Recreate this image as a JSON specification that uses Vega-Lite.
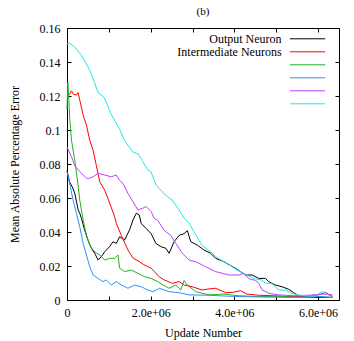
{
"$schema": "https://vega.github.io/schema/vega-lite/v6.json",
"width": 272, "height": 272,
"autosize": "none",
"padding": {"left": 67, "top": 28, "right": 15, "bottom": 41},
"background": "white",
"title": {"text": "(b)", "font": "Liberation Serif", "fontSize": 11, "fontWeight": "normal", "color": "black", "anchor": "middle", "offset": 5},
"config": {
  "view": {"stroke": "black", "strokeWidth": 1},
  "axis": {"domain": false, "grid": false, "tickSize": -4, "tickColor": "black", "tickWidth": 1,
           "labelFont": "Liberation Serif", "labelFontSize": 12, "labelColor": "black",
           "titleFont": "Liberation Serif", "titleFontSize": 12, "titleFontWeight": "normal", "titleColor": "black"},
  "legend": {"orient": "none", "legendX": 234.6, "legendY": 4.8, "title": null, "symbolType": "M-3.2,0H3.2", "symbolSize": 121,
             "symbolStrokeWidth": 1, "rowPadding": 1, "padding": 0,
             "labelAlign": "right", "labelOffset": -32, "labelFont": "Liberation Serif", "labelFontSize": 12, "labelColor": "black"}
},
"data": {"values": [
{"s":"Output Neuron","x":0,"y":0.076},{"s":"Output Neuron","x":60000,"y":0.0696},{"s":"Output Neuron","x":138000,"y":0.0659},{"s":"Output Neuron","x":186000,"y":0.0627},{"s":"Output Neuron","x":267000,"y":0.053},{"s":"Output Neuron","x":305000,"y":0.051},{"s":"Output Neuron","x":345000,"y":0.048},{"s":"Output Neuron","x":424000,"y":0.041},{"s":"Output Neuron","x":505000,"y":0.035},{"s":"Output Neuron","x":583000,"y":0.0304},{"s":"Output Neuron","x":662000,"y":0.0275},{"s":"Output Neuron","x":743000,"y":0.0235},{"s":"Output Neuron","x":821000,"y":0.0255},{"s":"Output Neuron","x":900000,"y":0.0284},{"s":"Output Neuron","x":1019000,"y":0.0314},{"s":"Output Neuron","x":1100000,"y":0.0343},{"s":"Output Neuron","x":1179000,"y":0.0333},{"s":"Output Neuron","x":1257000,"y":0.0372},{"s":"Output Neuron","x":1376000,"y":0.0353},{"s":"Output Neuron","x":1495000,"y":0.0412},{"s":"Output Neuron","x":1576000,"y":0.047},{"s":"Output Neuron","x":1655000,"y":0.051},{"s":"Output Neuron","x":1726000,"y":0.05},{"s":"Output Neuron","x":1774000,"y":0.045},{"s":"Output Neuron","x":1893000,"y":0.042},{"s":"Output Neuron","x":2012000,"y":0.039},{"s":"Output Neuron","x":2124000,"y":0.0333},{"s":"Output Neuron","x":2243000,"y":0.0314},{"s":"Output Neuron","x":2362000,"y":0.0304},{"s":"Output Neuron","x":2440000,"y":0.0275},{"s":"Output Neuron","x":2560000,"y":0.0343},{"s":"Output Neuron","x":2679000,"y":0.038},{"s":"Output Neuron","x":2798000,"y":0.039},{"s":"Output Neuron","x":2876000,"y":0.0408},{"s":"Output Neuron","x":2957000,"y":0.0343},{"s":"Output Neuron","x":3114000,"y":0.0323},{"s":"Output Neuron","x":3274000,"y":0.0294},{"s":"Output Neuron","x":3433000,"y":0.0275},{"s":"Output Neuron","x":3552000,"y":0.0245},{"s":"Output Neuron","x":3750000,"y":0.0225},{"s":"Output Neuron","x":4029000,"y":0.0186},{"s":"Output Neuron","x":4267000,"y":0.0147},{"s":"Output Neuron","x":4424000,"y":0.0147},{"s":"Output Neuron","x":4583000,"y":0.0127},{"s":"Output Neuron","x":4743000,"y":0.0127},{"s":"Output Neuron","x":4821000,"y":0.0108},{"s":"Output Neuron","x":4981000,"y":0.0088},{"s":"Output Neuron","x":5138000,"y":0.0078},{"s":"Output Neuron","x":5298000,"y":0.0063},{"s":"Output Neuron","x":5417000,"y":0.0043},{"s":"Output Neuron","x":5576000,"y":0.002},{"s":"Output Neuron","x":5893000,"y":0.0015},{"s":"Output Neuron","x":6345000,"y":0.0015},
{"s":"Intermediate Neurons","x":0,"y":0.1196},{"s":"Intermediate Neurons","x":60000,"y":0.121},{"s":"Intermediate Neurons","x":107000,"y":0.123},{"s":"Intermediate Neurons","x":155000,"y":0.121},{"s":"Intermediate Neurons","x":226000,"y":0.1206},{"s":"Intermediate Neurons","x":262000,"y":0.122},{"s":"Intermediate Neurons","x":305000,"y":0.1176},{"s":"Intermediate Neurons","x":393000,"y":0.108},{"s":"Intermediate Neurons","x":464000,"y":0.103},{"s":"Intermediate Neurons","x":543000,"y":0.094},{"s":"Intermediate Neurons","x":624000,"y":0.088},{"s":"Intermediate Neurons","x":702000,"y":0.079},{"s":"Intermediate Neurons","x":781000,"y":0.0696},{"s":"Intermediate Neurons","x":900000,"y":0.0647},{"s":"Intermediate Neurons","x":1019000,"y":0.057},{"s":"Intermediate Neurons","x":1138000,"y":0.049},{"s":"Intermediate Neurons","x":1179000,"y":0.045},{"s":"Intermediate Neurons","x":1298000,"y":0.038},{"s":"Intermediate Neurons","x":1457000,"y":0.0294},{"s":"Intermediate Neurons","x":1576000,"y":0.0247},{"s":"Intermediate Neurons","x":1733000,"y":0.0225},{"s":"Intermediate Neurons","x":1821000,"y":0.021},{"s":"Intermediate Neurons","x":1933000,"y":0.0196},{"s":"Intermediate Neurons","x":2005000,"y":0.0188},{"s":"Intermediate Neurons","x":2090000,"y":0.0167},{"s":"Intermediate Neurons","x":2202000,"y":0.0137},{"s":"Intermediate Neurons","x":2321000,"y":0.0118},{"s":"Intermediate Neurons","x":2519000,"y":0.0098},{"s":"Intermediate Neurons","x":2679000,"y":0.0108},{"s":"Intermediate Neurons","x":2798000,"y":0.0088},{"s":"Intermediate Neurons","x":2995000,"y":0.0078},{"s":"Intermediate Neurons","x":3226000,"y":0.0059},{"s":"Intermediate Neurons","x":3393000,"y":0.0065},{"s":"Intermediate Neurons","x":3552000,"y":0.0069},{"s":"Intermediate Neurons","x":3790000,"y":0.0043},{"s":"Intermediate Neurons","x":3964000,"y":0.0045},{"s":"Intermediate Neurons","x":4148000,"y":0.0055},{"s":"Intermediate Neurons","x":4298000,"y":0.0035},{"s":"Intermediate Neurons","x":4583000,"y":0.0028},{"s":"Intermediate Neurons","x":4940000,"y":0.0025},{"s":"Intermediate Neurons","x":5298000,"y":0.002},{"s":"Intermediate Neurons","x":5655000,"y":0.0022},{"s":"Intermediate Neurons","x":6012000,"y":0.003},{"s":"Intermediate Neurons","x":6179000,"y":0.0045},{"s":"Intermediate Neurons","x":6345000,"y":0.002},
{"s":"n3","x":0,"y":0.112},{"s":"n3","x":20000,"y":0.128},{"s":"n3","x":45000,"y":0.118},{"s":"n3","x":67000,"y":0.106},{"s":"n3","x":107000,"y":0.094},{"s":"n3","x":186000,"y":0.082},{"s":"n3","x":250000,"y":0.0706},{"s":"n3","x":305000,"y":0.0588},{"s":"n3","x":345000,"y":0.053},{"s":"n3","x":386000,"y":0.047},{"s":"n3","x":464000,"y":0.038},{"s":"n3","x":543000,"y":0.0323},{"s":"n3","x":624000,"y":0.0294},{"s":"n3","x":702000,"y":0.0276},{"s":"n3","x":781000,"y":0.0265},{"s":"n3","x":900000,"y":0.0235},{"s":"n3","x":1019000,"y":0.0245},{"s":"n3","x":1138000,"y":0.0245},{"s":"n3","x":1219000,"y":0.0265},{"s":"n3","x":1257000,"y":0.0188},{"s":"n3","x":1376000,"y":0.0167},{"s":"n3","x":1536000,"y":0.0176},{"s":"n3","x":1695000,"y":0.0157},{"s":"n3","x":1852000,"y":0.0137},{"s":"n3","x":2012000,"y":0.0127},{"s":"n3","x":2171000,"y":0.0108},{"s":"n3","x":2321000,"y":0.0085},{"s":"n3","x":2440000,"y":0.0069},{"s":"n3","x":2600000,"y":0.0088},{"s":"n3","x":2719000,"y":0.0059},{"s":"n3","x":2798000,"y":0.0114},{"s":"n3","x":2876000,"y":0.0088},{"s":"n3","x":3076000,"y":0.0049},{"s":"n3","x":3393000,"y":0.003},{"s":"n3","x":3750000,"y":0.0035},{"s":"n3","x":4107000,"y":0.0025},{"s":"n3","x":4583000,"y":0.002},{"s":"n3","x":5060000,"y":0.0022},{"s":"n3","x":5536000,"y":0.0015},{"s":"n3","x":6012000,"y":0.002},{"s":"n3","x":6345000,"y":0.0015},
{"s":"n4","x":0,"y":0.0755},{"s":"n4","x":60000,"y":0.069},{"s":"n4","x":143000,"y":0.059},{"s":"n4","x":226000,"y":0.051},{"s":"n4","x":305000,"y":0.043},{"s":"n4","x":386000,"y":0.0333},{"s":"n4","x":464000,"y":0.0265},{"s":"n4","x":543000,"y":0.0196},{"s":"n4","x":624000,"y":0.0147},{"s":"n4","x":743000,"y":0.0127},{"s":"n4","x":862000,"y":0.0108},{"s":"n4","x":940000,"y":0.0118},{"s":"n4","x":1060000,"y":0.0088},{"s":"n4","x":1179000,"y":0.0108},{"s":"n4","x":1298000,"y":0.0088},{"s":"n4","x":1457000,"y":0.0069},{"s":"n4","x":1614000,"y":0.0088},{"s":"n4","x":1774000,"y":0.0078},{"s":"n4","x":1933000,"y":0.0059},{"s":"n4","x":2052000,"y":0.0049},{"s":"n4","x":2210000,"y":0.0069},{"s":"n4","x":2440000,"y":0.0049},{"s":"n4","x":2679000,"y":0.0043},{"s":"n4","x":2917000,"y":0.003},{"s":"n4","x":3393000,"y":0.0028},{"s":"n4","x":3869000,"y":0.0022},{"s":"n4","x":4583000,"y":0.0018},{"s":"n4","x":5298000,"y":0.0015},{"s":"n4","x":6012000,"y":0.002},{"s":"n4","x":6345000,"y":0.0015},
{"s":"n5","x":0,"y":0.09},{"s":"n5","x":107000,"y":0.0843},{"s":"n5","x":186000,"y":0.079},{"s":"n5","x":305000,"y":0.0755},{"s":"n5","x":464000,"y":0.0716},{"s":"n5","x":536000,"y":0.0716},{"s":"n5","x":624000,"y":0.0725},{"s":"n5","x":743000,"y":0.0745},{"s":"n5","x":900000,"y":0.0735},{"s":"n5","x":1060000,"y":0.0725},{"s":"n5","x":1179000,"y":0.0735},{"s":"n5","x":1250000,"y":0.0706},{"s":"n5","x":1338000,"y":0.0686},{"s":"n5","x":1457000,"y":0.0627},{"s":"n5","x":1576000,"y":0.0578},{"s":"n5","x":1695000,"y":0.053},{"s":"n5","x":1814000,"y":0.054},{"s":"n5","x":1893000,"y":0.055},{"s":"n5","x":2012000,"y":0.052},{"s":"n5","x":2083000,"y":0.048},{"s":"n5","x":2162000,"y":0.047},{"s":"n5","x":2243000,"y":0.044},{"s":"n5","x":2321000,"y":0.041},{"s":"n5","x":2481000,"y":0.038},{"s":"n5","x":2600000,"y":0.0333},{"s":"n5","x":2757000,"y":0.0275},{"s":"n5","x":2917000,"y":0.0235},{"s":"n5","x":3076000,"y":0.0225},{"s":"n5","x":3314000,"y":0.0196},{"s":"n5","x":3552000,"y":0.0167},{"s":"n5","x":3869000,"y":0.0147},{"s":"n5","x":4107000,"y":0.0147},{"s":"n5","x":4226000,"y":0.0157},{"s":"n5","x":4345000,"y":0.0125},{"s":"n5","x":4505000,"y":0.0115},{"s":"n5","x":4583000,"y":0.0098},{"s":"n5","x":4662000,"y":0.006},{"s":"n5","x":4821000,"y":0.0039},{"s":"n5","x":5060000,"y":0.003},{"s":"n5","x":5417000,"y":0.0025},{"s":"n5","x":5774000,"y":0.0028},{"s":"n5","x":6131000,"y":0.0035},{"s":"n5","x":6345000,"y":0.003},
{"s":"n6","x":0,"y":0.1506},{"s":"n6","x":67000,"y":0.151},{"s":"n6","x":179000,"y":0.149},{"s":"n6","x":345000,"y":0.144},{"s":"n6","x":464000,"y":0.139},{"s":"n6","x":583000,"y":0.133},{"s":"n6","x":743000,"y":0.122},{"s":"n6","x":893000,"y":0.119},{"s":"n6","x":1060000,"y":0.109},{"s":"n6","x":1250000,"y":0.101},{"s":"n6","x":1369000,"y":0.094},{"s":"n6","x":1576000,"y":0.087},{"s":"n6","x":1695000,"y":0.086},{"s":"n6","x":1798000,"y":0.082},{"s":"n6","x":1933000,"y":0.0765},{"s":"n6","x":2005000,"y":0.0755},{"s":"n6","x":2131000,"y":0.0676},{"s":"n6","x":2274000,"y":0.0637},{"s":"n6","x":2393000,"y":0.061},{"s":"n6","x":2512000,"y":0.0588},{"s":"n6","x":2679000,"y":0.053},{"s":"n6","x":2798000,"y":0.048},{"s":"n6","x":2917000,"y":0.0453},{"s":"n6","x":3036000,"y":0.04},{"s":"n6","x":3233000,"y":0.032},{"s":"n6","x":3345000,"y":0.03},{"s":"n6","x":3552000,"y":0.0256},{"s":"n6","x":3702000,"y":0.023},{"s":"n6","x":3869000,"y":0.021},{"s":"n6","x":4036000,"y":0.018},{"s":"n6","x":4186000,"y":0.0162},{"s":"n6","x":4345000,"y":0.014},{"s":"n6","x":4505000,"y":0.0124},{"s":"n6","x":4655000,"y":0.0118},{"s":"n6","x":4743000,"y":0.0098},{"s":"n6","x":4893000,"y":0.0098},{"s":"n6","x":5060000,"y":0.0059},{"s":"n6","x":5219000,"y":0.0058},{"s":"n6","x":5376000,"y":0.0039},{"s":"n6","x":5536000,"y":0.0029},{"s":"n6","x":5726000,"y":0.0025},{"s":"n6","x":5933000,"y":0.0023},{"s":"n6","x":6090000,"y":0.0049},{"s":"n6","x":6155000,"y":0.0045},{"s":"n6","x":6290000,"y":0.002}
]},
"layer": [
  {
    "mark": {"type": "line", "strokeWidth": 1},
    "encoding": {
      "x": {"field": "x", "type": "quantitative", "scale": {"domain": [0, 6500000], "nice": false, "zero": false},
            "axis": {"orient": "bottom", "title": "Update Number", "values": [0,1000000,2000000,3000000,4000000,5000000,6000000],
                     "labelExpr": "datum.value == 0 ? '0' : (datum.value % 2000000 == 0 ? format(datum.value/1000000, '.1f') + 'e+06' : '')",
                     "labelPadding": 11, "titlePadding": 9, "labelFlush": false}},
      "y": {"field": "y", "type": "quantitative", "scale": {"domain": [0, 0.16], "nice": false},
            "axis": {"orient": "left", "title": "Mean Absolute Percentage Error", "values": [0,0.02,0.04,0.06,0.08,0.1,0.12,0.14,0.16],
                     "format": ".2~f", "labelPadding": 11, "titlePadding": 18}},
      "color": {"field": "s", "type": "nominal",
                "scale": {"domain": ["Output Neuron","Intermediate Neurons","n3","n4","n5","n6"],
                          "range": ["#000000","#ff0000","#20b020","#3090ff","#c040ff","#20e8e8"]},
                "legend": {"labelExpr": "datum.label == 'Output Neuron' || datum.label == 'Intermediate Neurons' ? datum.label : ''"}}
    }
  },
  {
    "mark": {"type": "line", "opacity": 0},
    "encoding": {
      "x": {"field": "x", "type": "quantitative",
            "axis": {"orient": "top", "title": null, "labels": false, "values": [0,1000000,2000000,3000000,4000000,5000000,6000000]}},
      "y": {"field": "y", "type": "quantitative",
            "axis": {"orient": "right", "title": null, "labels": false, "values": [0,0.02,0.04,0.06,0.08,0.1,0.12,0.14,0.16]}},
      "detail": {"field": "s"}
    }
  }
],
"resolve": {"axis": {"x": "independent", "y": "independent"}}
}
